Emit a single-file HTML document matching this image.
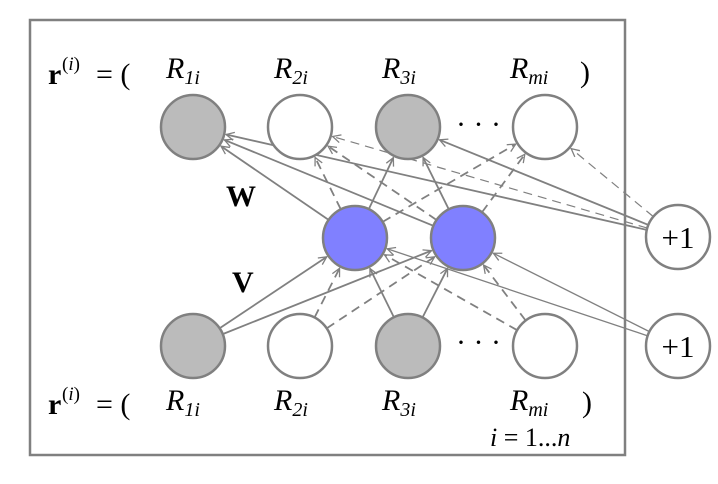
<!DOCTYPE html>
<html><head><meta charset="utf-8"><style>
html,body{margin:0;padding:0;background:#fff;}
svg{display:block;font-family:"Liberation Serif",serif;}
</style></head><body>
<svg id="s" width="718" height="484" viewBox="0 0 718 484" xmlns="http://www.w3.org/2000/svg">
<defs>
<marker id="a" markerWidth="10" markerHeight="10" refX="9" refY="5" orient="auto" markerUnits="userSpaceOnUse">
<path d="M1,1 L9,5 L1,9" fill="none" stroke="#808080" stroke-width="1.3"/>
</marker>
</defs>
<rect x="30" y="20" width="595" height="435" fill="none" stroke="#808080" stroke-width="2.5"/>
<g id="edges"></g>
<g id="nodes" stroke="#808080" stroke-width="2.5"></g>
<g font-size="30">
<text x="48" y="84" font-weight="bold">r</text><text x="62" y="70" font-size="19">(<tspan font-style="italic">i</tspan>)</text>
<text x="96" y="84">= (</text>
<text x="166" y="78" font-style="italic">R<tspan font-size="20" dy="6">1i</tspan></text>
<text x="274" y="78" font-style="italic">R<tspan font-size="20" dy="6">2i</tspan></text>
<text x="382" y="78" font-style="italic">R<tspan font-size="20" dy="6">3i</tspan></text>
<text x="510" y="78" font-style="italic">R<tspan font-size="20" dy="6">mi</tspan></text>
<text x="580" y="82">)</text>
<text x="48" y="414" font-weight="bold">r</text><text x="62" y="400" font-size="19">(<tspan font-style="italic">i</tspan>)</text>
<text x="96" y="414">= (</text>
<text x="166" y="410" font-style="italic">R<tspan font-size="20" dy="6">1i</tspan></text>
<text x="274" y="410" font-style="italic">R<tspan font-size="20" dy="6">2i</tspan></text>
<text x="382" y="410" font-style="italic">R<tspan font-size="20" dy="6">3i</tspan></text>
<text x="510" y="410" font-style="italic">R<tspan font-size="20" dy="6">mi</tspan></text>
<text x="582" y="412">)</text>
<text x="226" y="206" font-weight="bold">W</text>
<text x="232" y="292" font-weight="bold">V</text>
<text x="456" y="134">· · ·</text>
<text x="456" y="352">· · ·</text>
<text x="490" y="446" font-size="26"><tspan font-style="italic">i</tspan> = 1...<tspan font-style="italic">n</tspan></text>
</g>
</svg>
<script>
var ns="http://www.w3.org/2000/svg";
var T=[[193,127,'#bbb'],[300,127,'#fff'],[408,127,'#bbb'],[545,127,'#fff']];
var B=[[193,346,'#bbb'],[300,346,'#fff'],[408,346,'#bbb'],[545,346,'#fff']];
var H=[[355,238,'#8080ff'],[463,238,'#8080ff']];
var P1=[678,237],P2=[678,346];
var R=32;
var E=document.getElementById('edges'),N=document.getElementById('nodes');
function line(a,b,dash,w){
 var dx=b[0]-a[0],dy=b[1]-a[1],d=Math.sqrt(dx*dx+dy*dy),ux=dx/d,uy=dy/d;
 var l=document.createElementNS(ns,'line');
 l.setAttribute('x1',a[0]+ux*R);l.setAttribute('y1',a[1]+uy*R);
 l.setAttribute('x2',b[0]-ux*(R+2));l.setAttribute('y2',b[1]-uy*(R+2));
 l.setAttribute('stroke','#808080');l.setAttribute('stroke-width',w||1.8);
 if(dash)l.setAttribute('stroke-dasharray','9,6');
 l.setAttribute('marker-end','url(#a)');E.appendChild(l);
}
for(var t=0;t<4;t++){var dash=(t%2==1);
 line(H[0],T[t],dash);line(H[1],T[t],dash);line(P1,T[t],dash,dash?1.2:1.8);}
for(var b=0;b<4;b++){var dash=(b%2==1);
 line(B[b],H[0],dash);line(B[b],H[1],dash);}
line(P2,H[0],false,1.3);line(P2,H[1],false,1.3);
function circ(c){var e=document.createElementNS(ns,'circle');e.setAttribute('cx',c[0]);e.setAttribute('cy',c[1]);e.setAttribute('r',R);e.setAttribute('fill',c[2]||'#fff');N.appendChild(e);}
T.concat(B,H).forEach(circ);
[P1,P2].forEach(function(p){circ([p[0],p[1],'#fff']);
 var tx=document.createElementNS(ns,'text');tx.setAttribute('x',p[0]);tx.setAttribute('y',p[1]+11);
 tx.setAttribute('text-anchor','middle');tx.setAttribute('font-size','31');tx.setAttribute('stroke','none');tx.setAttribute('fill','#000');tx.textContent='+1';N.appendChild(tx);});
</script>
</body></html>
